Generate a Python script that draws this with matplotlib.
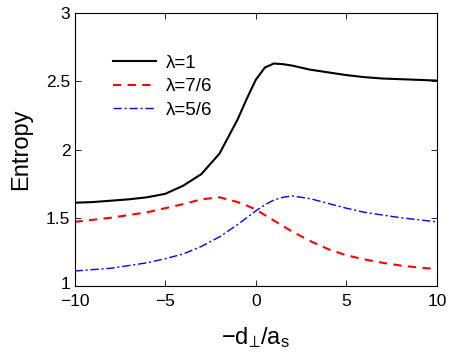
import matplotlib
matplotlib.use("Agg")
import matplotlib.pyplot as plt
from matplotlib.transforms import ScaledTranslation

plt.rcParams['font.family'] = ['Liberation Sans', 'DejaVu Sans']
plt.rcParams['mathtext.fontset'] = 'custom'
plt.rcParams['mathtext.rm'] = 'Liberation Sans'
plt.rcParams['mathtext.it'] = 'Liberation Sans'

x = [-10, -9, -8, -7, -6, -5, -4, -3, -2, -1, -0.5, 0, 0.5, 1, 1.5, 2, 3, 4, 5, 6, 7, 8, 9, 10]
s_1 = [1.61, 1.615, 1.625, 1.635, 1.65, 1.675, 1.735, 1.82, 1.97, 2.22, 2.37, 2.51, 2.60,
       2.63, 2.625, 2.615, 2.585, 2.565, 2.545, 2.53, 2.52, 2.515, 2.51, 2.505]
s_76 = [1.47, 1.485, 1.50, 1.52, 1.54, 1.57, 1.60, 1.635, 1.65, 1.615, 1.59, 1.56, 1.52,
        1.48, 1.44, 1.40, 1.33, 1.27, 1.225, 1.195, 1.17, 1.15, 1.135, 1.125]
s_56 = [1.11, 1.12, 1.13, 1.15, 1.17, 1.20, 1.235, 1.29, 1.36, 1.45, 1.50, 1.55, 1.595,
        1.63, 1.65, 1.66, 1.64, 1.605, 1.57, 1.54, 1.52, 1.50, 1.485, 1.47]
labels = ['λ=1', 'λ=7/6', 'λ=5/6']

fig = plt.figure(figsize=(4.5, 3.59), dpi=100)
ax = fig.add_axes([0.1656, 0.2033, 0.8054, 0.7605])
ax.plot(x, s_1, color='black', lw=1.5, label=labels[0])
ax.plot(x, s_76, color='red', lw=1.5, ls=(0, (4, 3)), label=labels[1])
ax.plot(x, s_56, color='blue', lw=1.0, ls=(0, (6, 2, 1.5, 2)), label=labels[2])

ax.set_xlim(-10, 10)
ax.set_ylim(1, 3)
ax.set_xticks([-10, -5, 0, 5, 10])
ax.set_xticklabels(['\u221210', '\u22125', '0', '5', '10'])
ax.set_yticks([1, 1.5, 2, 2.5, 3])
ax.set_yticklabels(['1', '1.5', '2', '2.5', '3'])
ax.tick_params(direction='in', top=True, right=True, labelsize=12.5, length=4, width=0.6, pad=3)
ax.tick_params(axis='x', pad=6)
for sp in ax.spines.values():
    sp.set_linewidth(0.8)

# nudge the lowest y tick label up slightly, as in the reference
lbl = ax.get_yticklabels()[0]
lbl.set_transform(lbl.get_transform() + ScaledTranslation(0, 3 / 100, fig.dpi_scale_trans))

ax.set_ylabel('Entropy', fontsize=17, labelpad=10)
ax.set_xlabel('\u2212d$_\u22a5$/a$_\\mathrm{s}$', fontsize=17, labelpad=11)

ax.legend(loc='upper left', bbox_to_anchor=(0.06, 0.91), frameon=False, fontsize=13.5,
          handlelength=2.3, handletextpad=0.5, labelspacing=0.35)

fig.savefig('out.png', dpi=100)
